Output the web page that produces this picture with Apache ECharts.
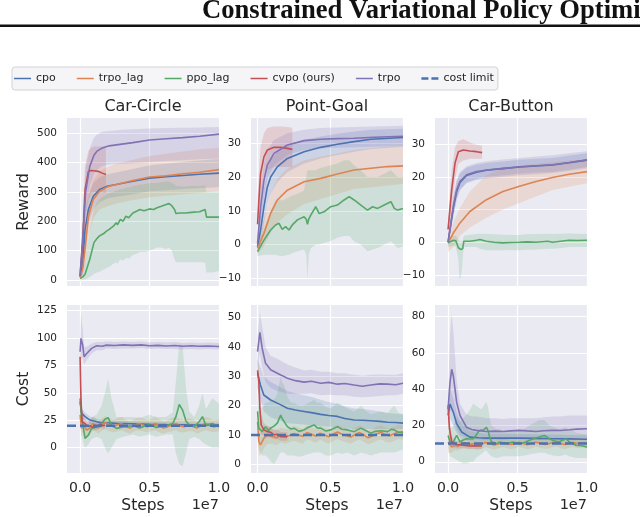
<!DOCTYPE html>
<html><head><meta charset="utf-8">
<script src="https://cdn.jsdelivr.net/npm/echarts@6/dist/echarts.min.js"></script>
<style>html,body{margin:0;padding:0;background:#fff}#c{width:640px;height:517px}</style>
</head><body><div id="c"></div><script>
// ---------- labels ----------
const envNames = ['Car-Circle', 'Point-Goal', 'Car-Button'];
const algoNames = ['cpo', 'trpo_lag', 'ppo_lag', 'cvpo (ours)', 'trpo'];
const costLimitName = 'cost limit';
const headerText = 'Constrained Variational Policy Optimization';
const xTicks = [0, 0.5, 1.0];
const rewardTicksCircle = [0, 100, 200, 300, 400, 500];
const rewardTicksPoint = [-10, 0, 10, 20, 30];
const rewardTicksButton = [-10, 0, 10, 20, 30];
const costTicksCircle = [0, 25, 50, 75, 100, 125];
const costTicksPoint = [0, 10, 20, 30, 40, 50];
const costTicksButton = [0, 20, 40, 60, 80];
const costLimits = [20, 10, 10];

// ---------- data: rows are [steps (1e7), mean, lower, upper] ----------
// Car-Circle reward
const circleReward_cpo = [[0,10,0,20],[0.02,60,20,110],[0.036,172,110,230],[0.06,240,190,290],[0.095,285,240,330],[0.14,308,265,350],[0.2,320,278,360],[0.26,325,283,366],[0.38,336,292,378],[0.5,347,302,390],[0.62,352,306,396],[0.74,356,310,402],[0.86,360,313,407],[1.0,364,316,412]];
const circleReward_trpoLag = [[0,8,0,18],[0.02,40,10,80],[0.036,104,50,160],[0.06,217,150,280],[0.095,274,210,340],[0.14,302,240,370],[0.2,318,252,385],[0.26,325,260,395],[0.38,339,272,410],[0.5,351,282,422],[0.62,355,287,430],[0.74,362,292,438],[0.86,367,296,445],[1.0,376,302,450]];
const circleReward_ppoLag = [[0,5,0,12],[0.02,10,0,30],[0.036,19,2,60],[0.05,40,5,110],[0.07,70,10,170],[0.1,127,20,240],[0.12,140,25,260],[0.14,150,28,275],[0.17,158,35,285],[0.19,166,40,290],[0.21,172,45,295],[0.24,183,55,300],[0.26,195,60,305],[0.27,188,55,305],[0.29,206,70,310],[0.31,200,65,310],[0.33,217,75,315],[0.35,212,72,315],[0.38,228,85,320],[0.41,235,90,322],[0.43,240,95,325],[0.46,236,95,325],[0.5,242,100,330],[0.53,240,105,330],[0.55,245,110,330],[0.58,250,110,332],[0.62,257,105,335],[0.64,260,110,335],[0.66,253,100,330],[0.68,240,70,325],[0.69,226,60,320],[0.72,228,60,318],[0.76,228,60,318],[0.8,230,60,320],[0.86,232,60,320],[0.9,240,58,322],[0.91,214,25,300],[0.95,214,25,300],[1.0,214,30,300]];
const circleReward_cvpo = [[0,14,0,30],[0.02,130,50,210],[0.036,308,200,390],[0.06,370,270,440],[0.08,373,295,450],[0.1,372,300,455],[0.13,370,300,455],[0.16,364,298,455],[0.186,359,295,455]];
const circleReward_trpo = [[0,14,0,30],[0.02,150,80,230],[0.04,300,220,380],[0.07,387,320,450],[0.1,425,360,485],[0.12,438,375,495],[0.16,450,388,505],[0.21,457,393,508],[0.3,463,396,512],[0.38,468,398,514],[0.5,477,402,516],[0.62,481,405,518],[0.74,485,408,519],[0.86,490,411,520],[1.0,497,414,521]];

// Point-Goal reward
const pointReward_cpo = [[0,-0.6,-2.5,1.5],[0.021,4.3,0,9],[0.044,11.2,6,16.5],[0.067,17,12,22],[0.09,20,15,25],[0.136,23,18.5,27.5],[0.205,25.5,21.5,29.5],[0.32,27.5,24,31],[0.434,28.8,25.5,32],[0.549,29.7,26.5,32.8],[0.664,30.5,27.5,33.5],[0.779,31.2,28.3,34],[1.0,31.7,29,34.3]];
const pointReward_trpoLag = [[0,-1.1,-3,1],[0.044,3.3,-0.5,7.5],[0.09,9.2,3.5,15],[0.136,13.2,6.5,19.5],[0.205,16.1,9,22.5],[0.32,18.6,12,25],[0.434,19.6,13.5,26],[0.549,20.9,15,27],[0.664,22.1,16.5,28],[0.779,22.6,17,28.5],[0.894,23.1,17.5,29],[1.0,23.3,18,29.2]];
const pointReward_ppoLag = [[0,-2.1,-3.5,-0.5],[0.044,1.3,-3,5],[0.09,4.3,-3,10],[0.124,5.8,-3,13],[0.147,6.3,-3.3,13.5],[0.17,4.5,-3.5,13],[0.193,5.3,-3.2,13.5],[0.216,4.3,-3,14],[0.239,5.8,-2.5,14.5],[0.274,7.3,-2,15],[0.32,8.2,-1.5,16],[0.335,7.5,-3,20],[0.343,6,-10.5,22],[0.352,7.5,-3,22],[0.366,8.7,-1,22],[0.4,11.2,0,22],[0.423,9.2,0,22.5],[0.457,9.7,0.5,23],[0.503,11.2,1,23.5],[0.549,11.7,2,24],[0.595,13.2,2.5,25],[0.63,14.2,2.5,25],[0.664,13.2,1,23.5],[0.71,11.7,0,22],[0.756,10.2,-2,20],[0.791,11.2,-1.5,20],[0.825,10.7,-1,20],[0.871,11.7,0,21],[0.917,12.7,1,22],[0.94,10.7,0,21],[0.963,10.2,-1,20],[1.0,10.7,-0.5,20]];
const pointReward_cvpo = [[0,6,-1,14],[0.009,13,5,21],[0.021,21,13,29],[0.044,26,19,33],[0.067,28,22,34.5],[0.113,28.8,23,35],[0.159,28.8,23,35],[0.205,28.5,23,34.8],[0.239,28.2,23,34.6]];
const pointReward_trpo = [[0,0.3,-2,3],[0.021,11,6,16],[0.044,19,14,24],[0.067,23.5,19.5,28],[0.113,27,23.5,31],[0.205,29.5,26.5,33],[0.32,30.8,28,34],[0.434,31.2,28.5,34.5],[0.55,31.4,28.7,34.7],[0.664,31.5,28.8,34.8],[0.8,31.8,29,35],[1.0,32.1,29.2,35.2]];

// Car-Button reward
const buttonReward_cpo = [[0,0,-1,1],[0.038,10.5,8,13.5],[0.062,15.5,13,18.5],[0.086,18.3,16,21],[0.133,20.4,18.3,22.8],[0.205,21.4,19.3,23.7],[0.276,22,20,24.2],[0.395,22.5,20.5,24.7],[0.514,23,21,25.2],[0.633,23.3,21.3,25.5],[0.752,23.6,21.5,25.8],[0.871,24.3,22.2,26.5],[1.0,25.1,23,27.2]];
const buttonReward_trpoLag = [[0,-0.2,-3,1.5],[0.038,2.8,-1.5,6],[0.086,5.9,2,10.5],[0.157,9.4,4.5,15.5],[0.276,13,7.5,20.5],[0.395,15.5,10,22.5],[0.514,17.1,12,23.5],[0.633,18.6,14,24],[0.752,19.8,16,24.5],[0.871,20.8,17,25],[1.0,21.6,18,25.3]];
const buttonReward_ppoLag = [[0,-0.2,-1.5,1],[0.038,0.6,-1,2],[0.057,0.4,-1.5,2],[0.074,-1.7,-5,1],[0.082,-2.1,-11,0.5],[0.09,-2.2,-11,0],[0.1,-2.1,-8,0.3],[0.105,-2,-5,0.5],[0.114,0.3,-1.5,2],[0.157,0.3,-1.5,2.3],[0.205,0.6,-1.5,2.5],[0.229,0.8,-2,2.6],[0.276,0.3,-2.5,2.5],[0.33,0,-2.5,2.4],[0.395,-0.2,-2.5,2.3],[0.45,-0.1,-2.4,2.2],[0.514,0,-2.5,2.2],[0.57,0.1,-2.3,2.4],[0.633,0,-2.2,2.5],[0.717,0.3,-2,2.6],[0.752,0,-2,2.5],[0.81,0.3,-1.8,2.6],[0.871,0.6,-1.5,2.7],[0.93,0.5,-1.5,2.6],[1.0,0.6,-1.5,2.5]];
const buttonReward_cvpo = [[0,3.9,1,7],[0.026,16,10,22],[0.05,24.2,19,29],[0.074,27.7,24,31],[0.11,28.2,25,31.5],[0.157,27.9,25.5,30.5],[0.205,27.7,25.5,29.8],[0.245,27.4,25.5,29.5]];
const buttonReward_trpo = [[0,0,-1,1],[0.038,11,8,14],[0.062,16,13,19],[0.086,18.6,16,21.5],[0.133,20.6,18,23.2],[0.205,21.6,19,24.2],[0.276,22.1,19.5,24.8],[0.395,22.6,20,25.3],[0.514,23.1,20.5,25.8],[0.633,23.4,20.8,26.2],[0.752,23.7,21.2,26.6],[0.871,24.4,21.8,27.2],[1.0,25.2,22.6,27.8]];

// Car-Circle cost
const circleCost_cpo = [[0,42,36,48],[0.012,31.3,27,36],[0.036,28.3,25,32],[0.071,25.2,22,28.5],[0.143,23,20.5,25.5],[0.26,22.2,20,24.5],[0.38,21.8,19.5,24],[0.5,21.3,19,23.5],[0.62,21,19,23],[0.74,20.9,19,23],[0.857,20.7,18.8,22.8],[1.0,20.7,18.8,22.6]];
const circleCost_trpoLag = [[0,30,20,42],[0.01,17.6,10,26],[0.02,22,15,29],[0.03,19,12,26],[0.05,16,10,23],[0.07,18,12,25],[0.09,22,16,28],[0.11,21,15,27],[0.13,18,13,24],[0.15,20,15,26],[0.18,23,17,29],[0.21,21,15,27],[0.24,19,14,25],[0.27,21,15,27],[0.3,22,16,28],[0.33,19,14,25],[0.36,18,13,24],[0.39,20,15,26],[0.42,22,16,28],[0.45,21,15,27],[0.48,19,14,25],[0.51,20,15,26],[0.54,22,16,28],[0.57,20,14,26],[0.6,18,13,24],[0.63,19,14,25],[0.66,21,15,27],[0.69,22,16,28],[0.72,20,14,26],[0.75,19,14,25],[0.78,21,15,27],[0.81,20,15,26],[0.84,18,13,24],[0.87,20,14,26],[0.9,22,16,28],[0.93,21,15,27],[0.96,19,14,25],[1.0,20,15,26]];
const circleCost_ppoLag = [[0,45,35,55],[0.012,26.7,10,40],[0.036,8.5,0,18],[0.06,11.5,3,20],[0.083,17.6,8,28],[0.119,19,10,30],[0.155,22,8,38],[0.179,26,0,50],[0.202,27.4,-5,63],[0.226,20.7,0,45],[0.262,17.6,8,28],[0.31,19,10,28],[0.381,20,12,28],[0.43,18,10,27],[0.5,21.3,12,30],[0.548,18.5,10,28],[0.62,20,12,28],[0.667,22,12,32],[0.69,28.3,-5,60],[0.714,39.5,-15,95],[0.738,34.3,-17,92],[0.762,24.3,-5,55],[0.786,20.7,8,33],[0.821,19,10,28],[0.857,23.7,8,38],[0.881,28.3,5,50],[0.905,20.7,3,35],[0.952,22,0,45],[1.0,19,0,40]];
const circleCost_cvpo = [[0,83,72,90],[0.007,42,30,55],[0.014,23.7,18,30],[0.036,22,18,26],[0.055,19.5,16,23],[0.071,20,17,23.5],[0.095,18.5,15.5,22],[0.119,19,16,22],[0.143,21.3,18,24.5],[0.167,20,17,23],[0.18,20.5,17.5,23.5]];
const circleCost_trpo = [[0,87.5,80,95],[0.007,99.7,80,124],[0.019,93.6,82,108],[0.029,83,76,92],[0.048,86,80,92],[0.083,90.6,86,95],[0.119,93,89,96.5],[0.16,92.5,89,96.5],[0.19,93.6,90.5,97],[0.25,93.2,90,96.5],[0.31,93.8,90.5,97],[0.38,93.4,90.5,96.5],[0.44,93.8,91,97],[0.5,93,90,96],[0.56,93.4,90.5,96.5],[0.62,92.8,90,96],[0.68,93.2,90,96.5],[0.74,92.6,89.5,95.5],[0.8,93,90,96],[0.857,92.5,89.5,95.5],[0.92,92.8,90,96],[1.0,92.4,89.5,95.5]];

// Point-Goal cost
const pointCost_cpo = [[0,31,26,36],[0.02,27,22,33],[0.043,23.6,18,30],[0.09,21.9,16,28],[0.15,20.5,15,26.5],[0.205,19.1,14,25],[0.26,18.5,13.8,24.2],[0.32,18,13.5,23.5],[0.38,17.5,13.2,22.8],[0.434,17,13,22],[0.49,16.6,12.8,21.2],[0.549,16.3,12.5,20.5],[0.6,15.6,12.2,19.8],[0.664,15.1,12,19],[0.72,15,12,18.8],[0.779,14.8,12,18.5],[0.84,14.6,12,18],[0.894,14.3,12,17.5],[0.95,14.2,12,17.2],[1.0,14,12,17]];
const pointCost_trpoLag = [[0,14.5,8,22],[0.009,7.7,3,13],[0.02,6.6,3,11],[0.044,8.9,5.5,12.5],[0.07,10,7,13],[0.1,9.5,7,12],[0.13,9,6.5,11.5],[0.16,10,7.5,12.5],[0.19,9.4,7,12],[0.22,9.8,7.5,12.2],[0.25,10.5,8,13],[0.28,10,7.5,12.5],[0.31,9.5,7,12],[0.34,10.8,8.5,13.2],[0.37,10.2,8,12.6],[0.4,9.6,7.3,12],[0.43,10.6,8.3,13],[0.46,10,7.7,12.4],[0.49,9.4,7,11.8],[0.52,10.3,8,12.7],[0.55,11,8.6,13.4],[0.58,10.2,7.9,12.6],[0.61,9.8,7.5,12.2],[0.64,9.3,7,11.7],[0.67,10.1,7.8,12.5],[0.7,10.8,8.4,13.2],[0.73,10,7.7,12.4],[0.76,9,6.8,11.4],[0.79,9.6,7.3,12],[0.82,10.4,8,12.8],[0.85,10.9,8.5,13.3],[0.88,10,7.7,12.4],[0.91,9.7,7.4,12.1],[0.94,10.4,8,12.8],[0.97,11,8.6,13.4],[1.0,10.6,8.3,13]];
const pointCost_ppoLag = [[0,18,12,25],[0.009,12.3,5,20],[0.032,11.1,3,19],[0.055,12.8,3,21],[0.075,11.5,2,21],[0.09,12.3,1,22],[0.113,13,0,22],[0.136,14,2,24],[0.159,16.8,4,30],[0.17,15.5,4,28],[0.182,15.1,4,27],[0.205,12.8,3,23],[0.23,12,3,21],[0.25,12.3,3,21],[0.285,11.2,2.5,20],[0.32,11.7,3,20],[0.35,12.6,3.5,21],[0.389,13.4,4,22],[0.41,12.4,4,21],[0.434,12.3,4,21],[0.47,11.3,3,19.5],[0.503,11.7,3,19],[0.549,12.8,4,21],[0.58,11.9,3.5,20],[0.618,11.7,4,19],[0.664,11.1,3,18],[0.69,11.8,3.5,19],[0.71,12.3,4,20],[0.75,11.3,3.5,18],[0.779,10.6,3,17],[0.81,11.2,3.5,17.5],[0.848,11.4,4,18],[0.894,11.1,4,17.5],[0.92,11.9,4,19],[0.94,11.7,4,20],[0.97,10.8,4.5,17.5],[1.0,11.1,5,17]];
const pointCost_cvpo = [[0,32,26,36],[0.009,28.2,22,33],[0.016,19,14,24],[0.025,13.4,10,17],[0.044,11.7,9.5,14],[0.067,11.1,9.2,13],[0.09,10.9,9,12.8],[0.113,10,8.5,11.7],[0.136,10.2,8.6,11.8],[0.159,9.4,8,11],[0.182,9.5,8,11],[0.205,9.4,8,10.8]];
const pointCost_trpo = [[0,38.4,33,44],[0.016,45,38,52],[0.032,39.5,33,47],[0.055,34.4,28,40],[0.09,32.2,26,37],[0.136,31,25,36],[0.17,30.2,24.5,35],[0.205,29.3,24,34],[0.26,28.5,24,33],[0.32,28,24,32],[0.37,28.3,24.2,32.2],[0.434,27.6,23.5,31.5],[0.49,27.9,23.7,31.5],[0.549,27.3,23.5,31],[0.6,27.5,23.5,31],[0.664,27,23,30.5],[0.72,26.6,22.8,30.2],[0.779,27,23,30.5],[0.84,27.4,23.3,30.6],[0.894,27.3,23.5,30.5],[0.95,27.1,23.5,30.5],[1.0,27.6,24,31]];

// Car-Button cost
const buttonCost_cpo = [[0,25.5,20,31],[0.014,31.8,24,40],[0.038,27.3,20,35],[0.062,21,16,27],[0.098,16.4,12.5,21],[0.157,13.6,11,17],[0.22,13.2,10.8,16],[0.276,13,10.8,15.5],[0.4,13.1,10.8,15.5],[0.514,13,10.8,15.3],[0.63,12.9,10.7,15.2],[0.752,12.7,10.5,15],[0.87,12.6,10.5,14.8],[1.0,12.4,10.3,14.6]];
const buttonCost_trpoLag = [[0,11,5,17],[0.012,9.5,5,14],[0.026,8.2,5,11.5],[0.05,9.1,6.5,11.7],[0.07,8.5,6,11],[0.09,9.8,7.3,12.3],[0.12,10.5,8,13],[0.15,9.4,7,11.9],[0.18,10,7.5,12.5],[0.21,9,6.5,11.5],[0.24,9.7,7.2,12.2],[0.27,10.6,8,13.1],[0.3,10,7.5,12.5],[0.33,9.2,6.7,11.7],[0.36,9.8,7.3,12.3],[0.39,10.5,8,13],[0.42,10.2,7.7,12.7],[0.45,9.5,7,12],[0.48,9.9,7.4,12.4],[0.51,10.8,8.3,13.3],[0.54,10.1,7.6,12.6],[0.57,9.4,6.9,11.9],[0.6,10,7.5,12.5],[0.63,10.7,8.2,13.2],[0.66,10.3,7.8,12.8],[0.69,9.6,7.1,12.1],[0.72,9.8,7.3,12.3],[0.75,10.5,8,13],[0.78,11,8.5,13.5],[0.81,10,7.5,12.5],[0.84,9.5,7,12],[0.87,10.2,7.7,12.7],[0.9,10.6,8.1,13.1],[0.93,10,7.5,12.5],[0.96,10.4,7.9,12.9],[1.0,10,7.5,12.5]];
const buttonCost_ppoLag = [[0,14.5,8,20],[0.014,11,3,18],[0.038,11,2,20],[0.062,14.5,1,25],[0.086,11,0,22],[0.11,12,-1,24],[0.133,12.7,-1,26],[0.16,12.5,0,29],[0.181,12.7,0,32],[0.2,14.5,2,31],[0.217,16.4,3,30],[0.235,17.5,4,29],[0.252,17.3,5,30],[0.265,18.2,6,32],[0.276,19,6,33],[0.288,17,5,30],[0.3,13.5,4,24],[0.312,11,3,20],[0.348,10,2,18],[0.37,10.8,2.5,18],[0.395,10.4,3,17],[0.43,10.2,3,17],[0.47,10.8,3,17.5],[0.514,10,3,17],[0.55,10.6,3.5,18],[0.586,11.8,4,20],[0.62,12.8,4.5,21.5],[0.657,13.6,5,23],[0.693,14.5,5,23],[0.729,12.7,4,20],[0.76,11.6,3.5,19],[0.8,11,3,18],[0.848,12.7,4,19],[0.871,11,3,18],[0.9,10,2.5,17],[0.919,9.1,2,16],[0.96,8.8,2,15.5],[1.0,8.2,2,15]];
const buttonCost_cvpo = [[0,31,25,37],[0.01,18.2,13,24],[0.026,11,8,14],[0.062,9.5,7.5,11.5],[0.11,9.1,7.3,11],[0.157,8.7,7,10.5],[0.2,8.8,7,10.6],[0.245,8.7,7,10.4]];
const buttonCost_trpo = [[0,29,22,36],[0.014,43.6,28,70],[0.026,51,28,82],[0.038,47.3,26,72],[0.062,32.7,18,45],[0.086,25.5,15,32],[0.133,19,13,26],[0.17,17.8,12.5,25],[0.205,17.3,12,25],[0.276,16.7,12,24],[0.34,16.9,12,24],[0.395,16.7,12,23.5],[0.45,17,12.2,24],[0.514,17.3,12.5,24],[0.57,17,12.3,24],[0.633,16.7,12,24],[0.69,17.1,12.3,24.5],[0.752,17.3,12.5,25],[0.81,17.2,12.5,25],[0.871,17.6,12.5,25.5],[0.93,18,12.8,25.5],[1.0,18.2,13,25.5]];

// ---------- layout / style ----------
const COLORS = ['#4C72B0', '#DD8452', '#55A868', '#C44E52', '#8172B3'];
const LIMIT_COLOR = '#4C72B0';
const TXT = '#262626';
const FONT = '"DejaVu Sans", "Noto Sans", sans-serif';
const BG = '#EAEAF2';
const W = 152, H = 168;
const boxes = [[67,118],[251,118],[435,118],[67,305],[251,305],[435,305]];
const xRanges = [[-0.094,1],[-0.045,1],[-0.094,1],[-0.094,1],[-0.045,1],[-0.094,1]];
const yRanges = [[-21,552],[-12.3,37.5],[-13.4,38],[-23.1,130.2],[-3,54.3],[-6.2,86.4]];
const yTickSets = [rewardTicksCircle, rewardTicksPoint, rewardTicksButton, costTicksCircle, costTicksPoint, costTicksButton];
const panelRows = [
  [circleReward_cpo, circleReward_trpoLag, circleReward_ppoLag, circleReward_cvpo, circleReward_trpo],
  [pointReward_cpo, pointReward_trpoLag, pointReward_ppoLag, pointReward_cvpo, pointReward_trpo],
  [buttonReward_cpo, buttonReward_trpoLag, buttonReward_ppoLag, buttonReward_cvpo, buttonReward_trpo],
  [circleCost_cpo, circleCost_trpoLag, circleCost_ppoLag, circleCost_cvpo, circleCost_trpo],
  [pointCost_cpo, pointCost_trpoLag, pointCost_ppoLag, pointCost_cvpo, pointCost_trpo],
  [buttonCost_cpo, buttonCost_trpoLag, buttonCost_ppoLag, buttonCost_cvpo, buttonCost_trpo]
];

function fmtNum(v) { return v < 0 ? '\u2212' + Math.abs(v) : String(v); }

function bandRenderer(rows, color) {
  return function (params, api) {
    if (params.dataIndex !== 0) return null;
    const lo = rows.map(r => api.coord([r[0], r[2]]));
    const hi = rows.map(r => api.coord([r[0], r[3]])).reverse();
    return { type: 'polygon', shape: { points: lo.concat(hi) }, style: { fill: color, opacity: 0.19 } };
  };
}

const grid = [], xAxis = [], yAxis = [], series = [];
boxes.forEach((b, i) => {
  grid.push({ left: b[0], top: b[1], width: W, height: H, show: true, backgroundColor: BG, borderWidth: 0, containLabel: false, outerBoundsMode: 'none' });
  xAxis.push({
    type: 'value', gridIndex: i, min: xRanges[i][0], max: xRanges[i][1],
    axisLine: { show: false }, axisTick: { show: false, customValues: xTicks },
    axisLabel: { show: i >= 3, customValues: xTicks, formatter: v => v.toFixed(1), fontSize: 14, color: TXT, fontFamily: FONT, margin: 8 },
    splitLine: { show: true, lineStyle: { color: '#ffffff', width: 1.2 } }
  });
  yAxis.push({
    type: 'value', gridIndex: i, min: yRanges[i][0], max: yRanges[i][1],
    axisLine: { show: false }, axisTick: { show: false, customValues: yTickSets[i] },
    axisLabel: { customValues: yTickSets[i], formatter: fmtNum, fontSize: 10.5, color: TXT, fontFamily: FONT, margin: 10 },
    splitLine: { show: true, lineStyle: { color: '#ffffff', width: 1.2 } }
  });
  const rowsList = panelRows[i];
  rowsList.forEach((rows, k) => {
    series.push({
      type: 'custom', name: algoNames[k] + ' band', xAxisIndex: i, yAxisIndex: i,
      data: rows, encode: { x: 0, y: [2, 3] }, clip: true, silent: true, z: 2,
      renderItem: bandRenderer(rows, COLORS[k])
    });
  });
  rowsList.forEach((rows, k) => {
    series.push({
      type: 'line', name: algoNames[k], xAxisIndex: i, yAxisIndex: i,
      data: rows.map(r => [r[0], r[1]]), showSymbol: false, symbol: 'none', clip: true, silent: true, z: 3,
      color: COLORS[k], lineStyle: { width: 1.6, color: COLORS[k] }
    });
  });
  if (i >= 3) {
    const lim = costLimits[i - 3];
    series.push({
      type: 'line', name: costLimitName, xAxisIndex: i, yAxisIndex: i,
      data: [[xRanges[i][0], lim], [xRanges[i][1], lim]], showSymbol: false, symbol: 'none', silent: true, z: 4,
      color: LIMIT_COLOR, lineStyle: { width: 2.5, color: LIMIT_COLOR, type: [9, 4] }
    });
  }
});

const graphic = [
  { type: 'text', x: 202, y: 11, style: { text: headerText, fontFamily: '"Liberation Serif", "Times New Roman", serif', fontWeight: 'bold', fontSize: 26.6, fill: '#111', textAlign: 'left', textVerticalAlign: 'middle', align: 'left', verticalAlign: 'middle' } },
  { type: 'rect', shape: { x: 0, y: 24.5, width: 640, height: 2.5 }, style: { fill: '#111' } },
  { type: 'text', x: 24, y: 202, rotation: Math.PI / 2, style: { text: 'Reward', fontFamily: FONT, fontSize: 15.5, fill: TXT, textAlign: 'center', textVerticalAlign: 'middle', align: 'center', verticalAlign: 'middle' } },
  { type: 'text', x: 24, y: 389, rotation: Math.PI / 2, style: { text: 'Cost', fontFamily: FONT, fontSize: 15.5, fill: TXT, textAlign: 'center', textVerticalAlign: 'middle', align: 'center', verticalAlign: 'middle' } }
];
envNames.forEach((n, c) => {
  const cx = boxes[c][0] + W / 2;
  graphic.push({ type: 'text', x: cx, y: 106.5, style: { text: n, fontFamily: FONT, fontSize: 16, fill: TXT, textAlign: 'center', textVerticalAlign: 'middle', align: 'center', verticalAlign: 'middle' } });
  graphic.push({ type: 'text', x: cx, y: 506, style: { text: 'Steps', fontFamily: FONT, fontSize: 15.5, fill: TXT, textAlign: 'center', textVerticalAlign: 'middle', align: 'center', verticalAlign: 'middle' } });
  graphic.push({ type: 'text', x: boxes[c][0] + W, y: 505, style: { text: '1e7', fontFamily: FONT, fontSize: 14.5, fill: TXT, textAlign: 'right', textVerticalAlign: 'middle', align: 'right', verticalAlign: 'middle' } });
});

const linePath = 'path://M0,0h17v1.5h-17z';
const dashPath = 'path://M0,0h7v2.5h-7zM10,0h7v2.5h-7z';
const legend = {
  left: 12, top: 67, orient: 'horizontal', selectedMode: false,
  data: algoNames.map(n => ({ name: n, icon: linePath })).concat([{ name: costLimitName, icon: dashPath }]),
  itemWidth: 17, itemHeight: 2.5, itemGap: 21, padding: [6, 4, 6, 2],
  backgroundColor: '#f5f5f8', borderColor: '#d2d2d8', borderWidth: 1, borderRadius: 3,
  textStyle: { fontSize: 11, color: TXT, fontFamily: FONT }
};

const chart = echarts.init(document.getElementById('c'), null, { renderer: 'canvas' });
chart.setOption({ animation: false, backgroundColor: '#ffffff', grid, xAxis, yAxis, series, legend, graphic });
</script></body></html>
